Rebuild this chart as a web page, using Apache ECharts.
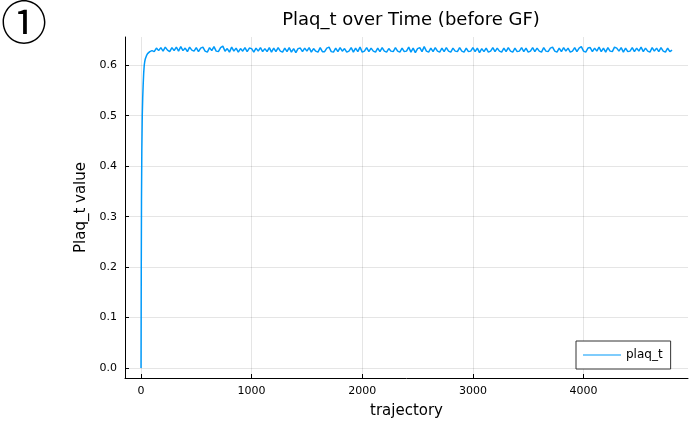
<!DOCTYPE html>
<html>
<head>
<meta charset="utf-8">
<script src="https://cdn.jsdelivr.net/npm/echarts@6/dist/echarts.min.js"></script>
<style>html,body{margin:0;padding:0;background:#fff}#c{width:692px;height:424px}</style>
</head>
<body>
<div id="c"></div>
<script>
// ---- data ----
const titleText = "Plaq_t over Time (before GF)";
const xName = "trajectory";
const yName = "Plaq_t value";
const seriesName = "plaq_t";
const xTicks = [0, 1000, 2000, 3000, 4000];
const yTicks = [0.0, 0.1, 0.2, 0.3, 0.4, 0.5, 0.6];
// initial rise (trajectory, value)
const riseTraj = [1, 3, 5, 8, 12, 16, 20, 25, 30, 35, 40, 50, 60, 70, 80, 100];
const riseVals = [0.0, 0.2, 0.33, 0.43, 0.5, 0.535, 0.56, 0.585, 0.600, 0.608, 0.613, 0.619, 0.623, 0.626, 0.627, 0.629];
// plateau, sampled every 20 trajectories starting at 120
const plateauStart = 120;
const plateauStep = 20;
const plateauVals = [
0.627,0.634,0.629,0.635,0.628,0.636,0.630,0.627,0.635,0.629,
0.636,0.628,0.637,0.629,0.634,0.627,0.636,0.630,0.628,0.635,
0.627,0.634,0.636,0.628,0.626,0.635,0.629,0.637,0.628,0.627,
0.635,0.638,0.628,0.633,0.626,0.636,0.628,0.634,0.626,0.633,
0.628,0.635,0.627,0.634,0.633,0.626,0.634,0.628,0.635,0.627,
0.633,0.627,0.635,0.626,0.634,0.627,0.635,0.628,0.626,0.634,
0.627,0.635,0.626,0.633,0.625,0.633,0.634,0.627,0.634,0.628,
0.635,0.626,0.633,0.628,0.626,0.635,0.627,0.627,0.634,0.636,
0.627,0.626,0.634,0.627,0.635,0.628,0.633,0.626,0.628,0.635,
0.626,0.634,0.627,0.636,0.626,0.628,0.635,0.627,0.634,0.628,
0.626,0.634,0.627,0.635,0.628,0.626,0.633,0.628,0.627,0.635,
0.628,0.626,0.634,0.627,0.628,0.636,0.626,0.634,0.625,0.633,
0.635,0.627,0.637,0.628,0.626,0.634,0.627,0.635,0.628,0.626,
0.634,0.627,0.635,0.628,0.626,0.634,0.628,0.627,0.635,0.628,
0.626,0.634,0.627,0.628,0.635,0.627,0.634,0.625,0.633,0.627,
0.634,0.626,0.628,0.635,0.627,0.634,0.628,0.626,0.634,0.627,
0.635,0.628,0.626,0.634,0.627,0.628,0.635,0.627,0.634,0.626,
0.628,0.635,0.627,0.634,0.628,0.626,0.635,0.628,0.627,0.634,
0.636,0.628,0.626,0.634,0.627,0.635,0.628,0.634,0.626,0.628,
0.635,0.627,0.634,0.637,0.628,0.626,0.634,0.635,0.627,0.634,
0.628,0.636,0.627,0.634,0.626,0.635,0.628,0.627,0.636,0.634,
0.628,0.635,0.626,0.634,0.627,0.628,0.635,0.627,0.634,0.628,
0.636,0.627,0.634,0.628,0.626,0.635,0.628,0.634,0.627,0.635,
0.628,0.626,0.634,0.627,0.630
];

// ---- build ----
const points = riseTraj.map((t, i) => [t, riseVals[i]]);
plateauVals.forEach((v, i) => points.push([plateauStart + i * plateauStep, v]));

const FONT = "DejaVu Sans";
const lineColor = "#009AFA";
const gridColor = "rgba(0,0,0,0.1)";

const chart = echarts.init(document.getElementById('c'), null, {renderer: 'canvas'});
chart.setOption({
  animation: false,
  backgroundColor: '#fff',
  title: {
    text: titleText, left: 406, top: 6, textAlign: 'center',
    textStyle: {fontFamily: FONT, fontSize: 18, fontWeight: 'normal', color: '#000'}
  },
  graphic: [{
    type: 'text', left: 1, top: -1,
    style: {text: '①', font: '46px "Noto Sans CJK JP"', fill: '#000'}
  }],
  grid: {left: 125, right: 4, top: 37, bottom: 44, containLabel: false},
  legend: {
    left: 576, top: 341, orient: 'vertical',
    padding: [8, 8, 8, 7],
    borderColor: '#333', borderWidth: 1, borderRadius: 0,
    backgroundColor: '#fff',
    itemWidth: 38, itemHeight: 12, itemGap: 0,
    icon: 'path://M0,0 L38,0 L38,1 L0,1 Z',
    textStyle: {fontFamily: FONT, fontSize: 12, color: '#000'},
    data: [{name: seriesName, icon: 'path://M0,0 L38,0 L38,1 L0,1 Z', itemStyle: {color: lineColor}}]
  },
  xAxis: {
    type: 'value', min: -144, max: 4944,
    name: xName, nameLocation: 'middle', nameGap: 26,
    nameTextStyle: {fontFamily: FONT, fontSize: 15, color: '#000'},
    axisLine: {show: true, onZero: false, lineStyle: {color: '#000', width: 1}},
    axisTick: {show: true, inside: true, length: 4, customValues: xTicks, lineStyle: {color: '#000'}},
    axisLabel: {customValues: xTicks, fontFamily: FONT, fontSize: 11, color: '#000', margin: 8,
      formatter: v => String(v)},
    splitLine: {show: false}
  },
  yAxis: {
    type: 'value', min: -0.0197, max: 0.656,
    name: yName, nameLocation: 'middle', nameGap: 36,
    nameTextStyle: {fontFamily: FONT, fontSize: 15, color: '#000'},
    axisLine: {show: true, onZero: false, lineStyle: {color: '#000', width: 1}},
    axisTick: {show: true, inside: true, length: 4, customValues: yTicks, lineStyle: {color: '#000'}},
    axisLabel: {customValues: yTicks, fontFamily: FONT, fontSize: 11, color: '#000', margin: 8,
      formatter: v => v.toFixed(1)},
    splitLine: {show: false}
  },
  series: [
    {
      name: seriesName, type: 'line', data: points, showSymbol: false, symbol: 'none',
      lineStyle: {color: lineColor, width: 1.5}, itemStyle: {color: lineColor},
      z: 3,
      markLine: {
        silent: true, symbol: 'none', label: {show: false},
        lineStyle: {color: gridColor, width: 1, type: 'solid'},
        z: 1,
        data: xTicks.map(v => ({xAxis: v})).concat(yTicks.map(v => ({yAxis: v})))
      }
    }
  ]
});
</script>
</body>
</html>
